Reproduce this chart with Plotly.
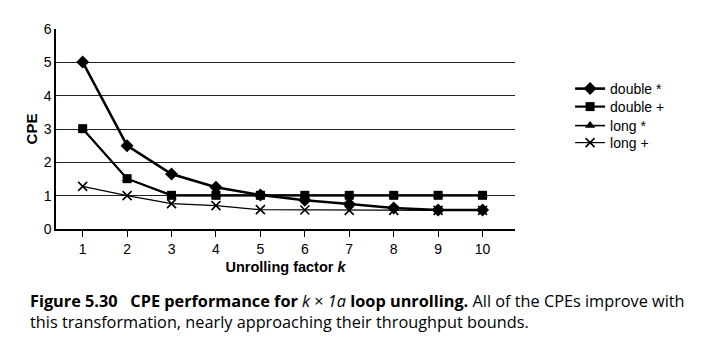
import plotly.graph_objects as go

k = [1, 2, 3, 4, 5, 6, 7, 8, 9, 10]
double_mul = [5.01, 2.50, 1.65, 1.25, 1.02, 0.86, 0.75, 0.63, 0.57, 0.57]
double_add = [3.01, 1.51, 1.01, 1.01, 1.01, 1.01, 1.01, 1.01, 1.01, 1.01]
long_mul = [3.01, 1.51, 1.01, 1.01, 1.01, 1.01, 1.01, 1.01, 1.01, 1.01]
long_add = [1.28, 1.00, 0.76, 0.70, 0.58, 0.57, 0.56, 0.56, 0.56, 0.56]
series_names = ["double *", "double +", "long *", "long +"]
y_ticks = [0, 1, 2, 3, 4, 5, 6]

fig = go.Figure()
styles = [
    (double_mul, "diamond", 10, 2.6),
    (double_add, "square", 9, 2.2),
    (long_mul, "triangle-up", 9, 1.6),
    (long_add, "x-thin", 9, 1.2),
]
legend_ids = ["legend", "legend2", "legend3", "legend4"]
for name, (vals, sym, sz, lw), lg in zip(series_names, styles, legend_ids):
    fig.add_trace(go.Scatter(
        x=k, y=vals, name=name, mode="lines+markers", legend=lg,
        line=dict(color="black", width=lw),
        marker=dict(symbol=sym, size=sz, color="black",
                    line=dict(color="black", width=1.6 if sym == "x-thin" else 0)),
    ))

legend_font = dict(size=14, family="Liberation Sans, Arial, sans-serif", color="black")
legend_ys = [0.70, 0.61, 0.515, 0.43]
legend_cfg = {}
for lg, ly in zip(legend_ids, legend_ys):
    legend_cfg[lg] = dict(x=1.12, y=ly, xanchor="left", yanchor="middle",
                          font=legend_font, bgcolor="rgba(0,0,0,0)", itemwidth=30)

fig.update_layout(
    width=716, height=356,
    margin=dict(l=48, r=209, t=21, b=135),
    paper_bgcolor="white", plot_bgcolor="white",
    font=dict(family="Liberation Sans, Arial, sans-serif", size=14, color="black"),
    showlegend=True,
    xaxis=dict(range=[0.4, 10.73], tickmode="array", tickvals=k,
               ticks="outside", ticklen=6, tickcolor="black", tickwidth=1,
               showline=True, linecolor="black", linewidth=1.5,
               showgrid=False, zeroline=False,
               tickfont=dict(size=14),
               title=dict(text="<b>Unrolling factor <i>k</i></b>", font=dict(size=14.5), standoff=6)),
    yaxis=dict(range=[0, 6], tickmode="array", tickvals=y_ticks,
               ticks="", showline=True, linecolor="black", linewidth=1.5,
               showgrid=True, gridcolor="#222222", gridwidth=1.2,
               zeroline=False, tickfont=dict(size=14),
               title=dict(text="<b>CPE</b>", font=dict(size=15), standoff=2)),
    **legend_cfg,
)

caption_font = dict(family="Open Sans, Noto Sans, sans-serif", size=16.3, color="black")
fig.add_annotation(
    xref="paper", yref="paper", x=-0.061, y=-0.36, xanchor="left", yanchor="middle",
    align="left", showarrow=False, font=caption_font,
    text=("<b>Figure 5.30   CPE performance for</b> <i>k</i> × <i>1a</i> <b>loop unrolling.</b> "
          "All of the CPEs improve with"),
)
fig.add_annotation(
    xref="paper", yref="paper", x=-0.061, y=-0.465, xanchor="left", yanchor="middle",
    align="left", showarrow=False, font=caption_font,
    text="this transformation, nearly approaching their throughput bounds.",
)

fig.write_html("out.html")
